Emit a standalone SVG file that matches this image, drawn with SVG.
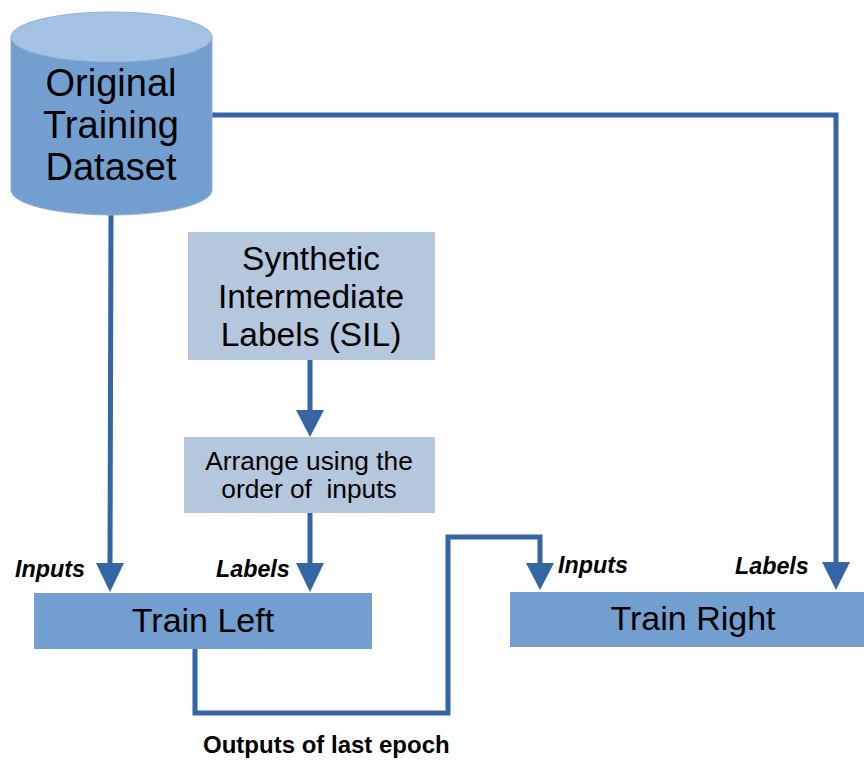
<svg xmlns="http://www.w3.org/2000/svg" width="864" height="760" viewBox="0 0 864 760">
<defs>
<style>
.ln{fill:none;stroke:#3465a4;stroke-width:5;stroke-linejoin:miter;stroke-linecap:butt}
.ah{fill:#3465a4}
.t{font-family:"Liberation Sans",Arial,sans-serif;fill:#000;text-anchor:middle}
.lb{font-family:"Liberation Sans",Arial,sans-serif;font-weight:bold;font-style:italic;font-size:23.3px;fill:#000}
.dark{fill:#729fcf}
.light{fill:#b4c7dc}
</style>
</defs>
<rect width="864" height="760" fill="#fff"/>
<g id="connectors">
<polyline class="ln" points="212,115 836,115 836,563"/>
<polygon class="ah" points="822,562 850,562 836,590"/>
<polyline class="ln" points="111,214 110,564"/>
<polygon class="ah" points="96,563 124,563 110,592"/>
<polyline class="ln" points="310,360 310,411"/>
<polygon class="ah" points="296,410 324,410 310,437"/>
<polyline class="ln" points="310,513 310,564"/>
<polygon class="ah" points="296,563 324,563 310,592"/>
<polyline class="ln" points="195,649 195,713 448,713 448,537 540,537 540,564"/>
<polygon class="ah" points="526,563 554,563 540,590"/>
</g>
<g id="dataset">
<path d="M11,37 L11,190 A100.5,25 0 0 0 212,190 L212,37 Z" fill="#729fcf" stroke="#8fb1da" stroke-width="1"/>
<ellipse cx="111.5" cy="37" rx="100.5" ry="25" fill="#a4c2e4" stroke="#8fb1da" stroke-width="1"/>
<text class="t" font-size="38" x="111" y="96">Original</text>
<text class="t" font-size="38" x="111" y="138">Training</text>
<text class="t" font-size="38" x="111" y="180">Dataset</text>
</g>
<g id="sil">
<rect class="light" x="188" y="232" width="247" height="128"/>
<text class="t" font-size="33.5" x="311" y="270">Synthetic</text>
<text class="t" font-size="33.5" x="311" y="308">Intermediate</text>
<text class="t" font-size="33.5" x="311" y="346">Labels (SIL)</text>
</g>
<g id="arrange">
<rect class="light" x="184" y="437" width="251" height="76"/>
<text class="t" font-size="26.3" x="309" y="470">Arrange using the</text>
<text class="t" font-size="26.3" x="309" y="498" xml:space="preserve">order of  inputs</text>
</g>
<g id="train-left">
<rect class="dark" x="34" y="593" width="338" height="56"/>
<text class="t" font-size="34" x="203" y="632">Train Left</text>
</g>
<g id="train-right">
<rect class="dark" x="510" y="592" width="354" height="55"/>
<text class="t" font-size="34" x="693" y="630">Train Right</text>
</g>
<g id="labels">
<text class="lb" x="15" y="577">Inputs</text>
<text class="lb" x="216" y="577">Labels</text>
<text class="lb" x="558" y="573">Inputs</text>
<text class="lb" x="735" y="574">Labels</text>
<text x="203" y="753" font-family="'Liberation Sans',Arial,sans-serif" font-weight="bold" font-size="24" fill="#000">Outputs of last epoch</text>
</g>
</svg>
